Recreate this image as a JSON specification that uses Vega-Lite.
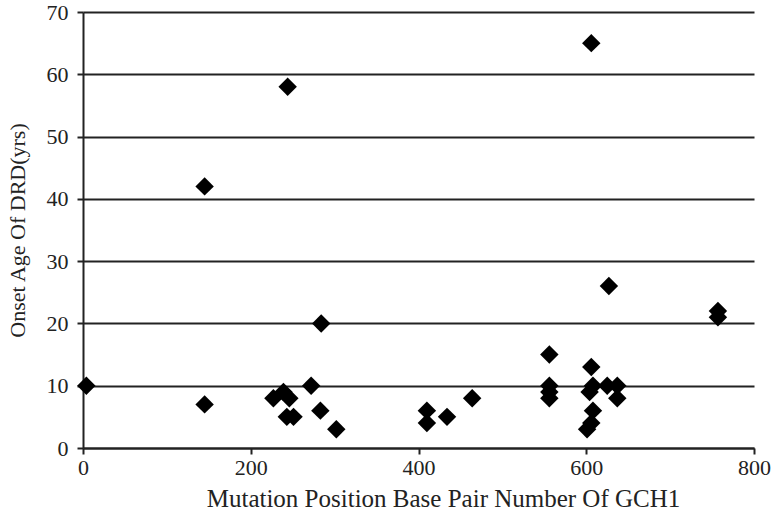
{
  "$schema": "https://vega.github.io/schema/vega-lite/v6.json",
  "width": 671,
  "height": 436,
  "autosize": "none",
  "padding": {"left": 83, "top": 12, "right": 18, "bottom": 72},
  "background": "white",
  "config": {
    "view": {"stroke": null},
    "font": "Liberation Serif"
  },
  "data": {
    "values": [
      {"pos": 4, "age": 10},
      {"pos": 145, "age": 42},
      {"pos": 145, "age": 7},
      {"pos": 244, "age": 58},
      {"pos": 227, "age": 8},
      {"pos": 239, "age": 9},
      {"pos": 246, "age": 8},
      {"pos": 243, "age": 5},
      {"pos": 251, "age": 5},
      {"pos": 272, "age": 10},
      {"pos": 283, "age": 6},
      {"pos": 302, "age": 3},
      {"pos": 284, "age": 20},
      {"pos": 410, "age": 6},
      {"pos": 410, "age": 4},
      {"pos": 434, "age": 5},
      {"pos": 464, "age": 8},
      {"pos": 556, "age": 15},
      {"pos": 556, "age": 10},
      {"pos": 556, "age": 9},
      {"pos": 556, "age": 8},
      {"pos": 606, "age": 65},
      {"pos": 606, "age": 13},
      {"pos": 608, "age": 10},
      {"pos": 604, "age": 9},
      {"pos": 608, "age": 6},
      {"pos": 606, "age": 4},
      {"pos": 601, "age": 3},
      {"pos": 625, "age": 10},
      {"pos": 637, "age": 10},
      {"pos": 637, "age": 8},
      {"pos": 627, "age": 26},
      {"pos": 757, "age": 22},
      {"pos": 757, "age": 21}
    ]
  },
  "mark": {"type": "point", "shape": "diamond", "filled": true, "color": "black", "opacity": 1, "size": 340},
  "encoding": {
    "x": {
      "field": "pos",
      "type": "quantitative",
      "scale": {"domain": [0, 800], "nice": false},
      "axis": {
        "title": "Mutation Position Base Pair Number Of GCH1",
        "values": [0, 200, 400, 600, 800],
        "grid": false,
        "domainColor": "#222",
        "domainWidth": 2,
        "tickColor": "#222",
        "tickWidth": 2,
        "tickSize": 6,
        "labelFlush": false,
        "labelFontSize": 22,
        "labelColor": "#222",
        "labelPadding": 3,
        "titleFontSize": 25,
        "titleFontWeight": "normal",
        "titleColor": "#222",
        "titlePadding": 8,
        "titleX": 360
      }
    },
    "y": {
      "field": "age",
      "type": "quantitative",
      "scale": {"domain": [0, 70], "nice": false},
      "axis": {
        "title": "Onset Age Of DRD(yrs)",
        "values": [0, 10, 20, 30, 40, 50, 60, 70],
        "grid": true,
        "gridColor": "#222",
        "gridWidth": 2,
        "gridOpacity": 1,
        "domainColor": "#222",
        "domainWidth": 2,
        "tickColor": "#222",
        "tickWidth": 2,
        "tickSize": 6,
        "labelFlush": false,
        "labelFontSize": 22,
        "labelColor": "#222",
        "labelPadding": 9,
        "titleFontSize": 22,
        "titleFontWeight": "normal",
        "titleColor": "#222",
        "titlePadding": 17
      }
    }
  }
}
